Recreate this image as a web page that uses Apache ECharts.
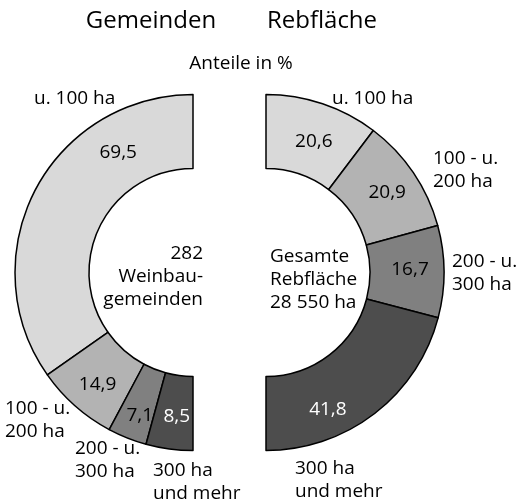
<!DOCTYPE html>
<html><head><meta charset="utf-8">
<script src="https://cdn.jsdelivr.net/npm/echarts@6/dist/echarts.min.js"></script>
<style>html,body{margin:0;padding:0;background:#fff}#c{width:521px;height:504px}</style>
</head><body><div id="c"></div>
<script>
// ---- data ----
const categories = ['u. 100 ha', '100 - u.\n200 ha', '200 - u.\n300 ha', '300 ha\nund mehr'];
const gemeindenValues = [69.5, 14.9, 7.1, 8.5];
const rebflaecheValues = [20.6, 20.9, 16.7, 41.8];
const titles = ['Gemeinden', 'Rebfläche'];
const subtitle = 'Anteile in %';
const leftCenterText = '282\nWeinbau-\ngemeinden';
const rightCenterText = 'Gesamte\nRebfläche\n28 550 ha';

// ---- styles / layout ----
const colors = ['#d9d9d9', '#b3b3b3', '#808080', '#4d4d4d'];
const labelColors = ['#000', '#000', '#000', '#fff'];
const FONT = '"Open Sans", "Noto Sans", sans-serif';
const leftCenter = [193, 272.5], rightCenter = [266, 272.5];
const radius = [104, 178];
const leftLabelOffsets = [[53, -54], [0, 4], [0, 9], [3, 1]];
const rightLabelOffsets = [[2, 6], [2, 1], [0, -2], [-26, 23]];
const leftCatPos = [[34, 99], [5, 409], [75, 449], [153, 471]];
const rightCatPos = [[332, 99], [433, 159], [452, 262], [295, 469]];

function fmt(v) { return String(v).replace('.', ','); }

function pieData(values, offsets) {
  const d = values.map((v, i) => ({
    value: v,
    itemStyle: { color: colors[i], borderColor: '#000', borderWidth: 1.5 },
    label: { color: labelColors[i], offset: offsets[i] }
  }));
  const total = values.reduce((a, b) => a + b, 0);
  d.push({ value: total, itemStyle: { color: 'rgba(0,0,0,0)', borderWidth: 0 }, label: { show: false } });
  return d;
}

function pieSeries(values, center, clockwise, offsets) {
  return {
    type: 'pie',
    center: center,
    radius: radius,
    startAngle: 90,
    clockwise: clockwise,
    silent: true,
    avoidLabelOverlap: false,
    animation: false,
    emphasis: { disabled: true, scale: false },
    label: {
      show: true, position: 'inside',
      formatter: p => fmt(p.value),
      fontFamily: FONT, fontSize: 19
    },
    labelLine: { show: false },
    data: pieData(values, offsets)
  };
}

const graphics = [];
function txt(text, x, y, align, size) {
  graphics.push({
    type: 'text', silent: true,
    style: {
      text: text, x: x, y: y, fill: '#000',
      font: (size || 19) + 'px ' + FONT,
      textAlign: align || 'left', textVerticalAlign: 'top', lineHeight: 23
    }
  });
}
txt(titles[0], 151, 10, 'center', 24);
txt(titles[1], 322, 10, 'center', 24);
txt(subtitle, 241, 52, 'center', 19);
txt(leftCenterText, 203, 254 - 11.5, 'right');
txt(rightCenterText, 270, 257 - 11.5, 'left');
categories.forEach((c, i) => {
  txt(c, leftCatPos[i][0], leftCatPos[i][1] - 11.5, 'left');
  txt(c, rightCatPos[i][0], rightCatPos[i][1] - 11.5, 'left');
});

const chart = echarts.init(document.getElementById('c'), null, { renderer: 'canvas' });
chart.setOption({
  backgroundColor: '#fff',
  animation: false,
  series: [
    pieSeries(gemeindenValues, leftCenter, false, leftLabelOffsets),
    pieSeries(rebflaecheValues, rightCenter, true, rightLabelOffsets)
  ],
  graphic: graphics
});
</script></body></html>
